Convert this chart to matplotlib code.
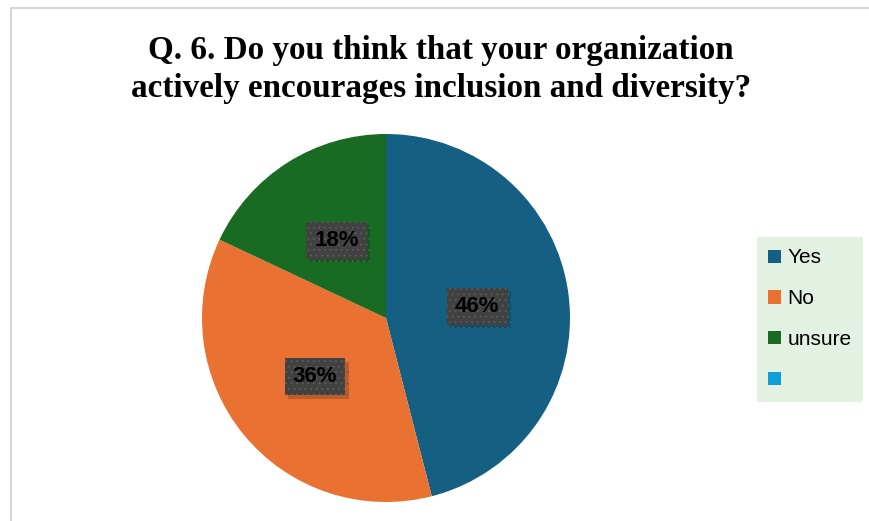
import matplotlib.pyplot as plt
import matplotlib.patheffects as pe
from matplotlib.patches import Rectangle

labels = ['Yes', 'No', 'unsure', '']
values = [46, 36, 18, 0]
colors = ['#156082', '#E97132', '#196B24', '#0F9ED5']
title = 'Q. 6. Do you think that your organization\nactively encourages inclusion and diversity?'

W, H = 869, 521
fig = plt.figure(figsize=(W / 100, H / 100), dpi=100)
fig.patch.set_facecolor('white')

# chart frame (runs off the right/bottom edges)
fig.add_artist(Rectangle((11 / W, -0.1), 1.2, (H - 8) / H + 0.1, transform=fig.transFigure,
                         fill=False, edgecolor='#d6d6d6', linewidth=1.5))

fig.text(441 / W, 1 - 69.5 / H, title, ha='center', va='center', fontsize=23.9,
         fontweight='bold', family='Liberation Serif', linespacing=1.3)

# pie axes in pixel terms
cx, cy, r = 386, 318, 184
ax = fig.add_axes([(cx - r) / W, (H - cy - r) / H, 2 * r / W, 2 * r / H])
wedges, texts, autotexts = ax.pie(values, colors=colors, startangle=90, counterclock=False,
                                  radius=1.0, pctdistance=0.5,
                                  autopct=lambda p: f'{p:.0f}%' if p > 0 else '')
ax.set_xlim(-1, 1)
ax.set_ylim(-1, 1)
ax.set_aspect('equal')

plt.rcParams['hatch.linewidth'] = 0.6
for t in autotexts:
    if not t.get_text():
        continue
    t.set_fontsize(16)
    t.set_fontweight('bold')
    t.set_family('Liberation Sans')
    t.set_color('black')
    t.set_bbox(dict(boxstyle='square,pad=0.36', facecolor='#414141', edgecolor='#5e5e5e',
                    linewidth=0, hatch='...'))
    t.get_bbox_patch().set_path_effects([
        pe.SimplePatchShadow(offset=(2.5, -2.5), shadow_rgbFace='black', alpha=0.18),
        pe.Normal()])

leg = fig.legend(wedges, labels, loc='upper left', bbox_to_anchor=(757 / W, 1 - 237 / H),
                 frameon=True, fancybox=False, facecolor='#e3f1e2', edgecolor='#e3f1e2',
                 framealpha=1, prop={'family': 'Liberation Sans', 'size': 15},
                 handlelength=0.6, handleheight=0.6, handletextpad=0.3,
                 labelspacing=1.05, borderpad=0.55, borderaxespad=0)
leg.get_frame().set_linewidth(0)

fig.savefig('out.png', dpi=100)
